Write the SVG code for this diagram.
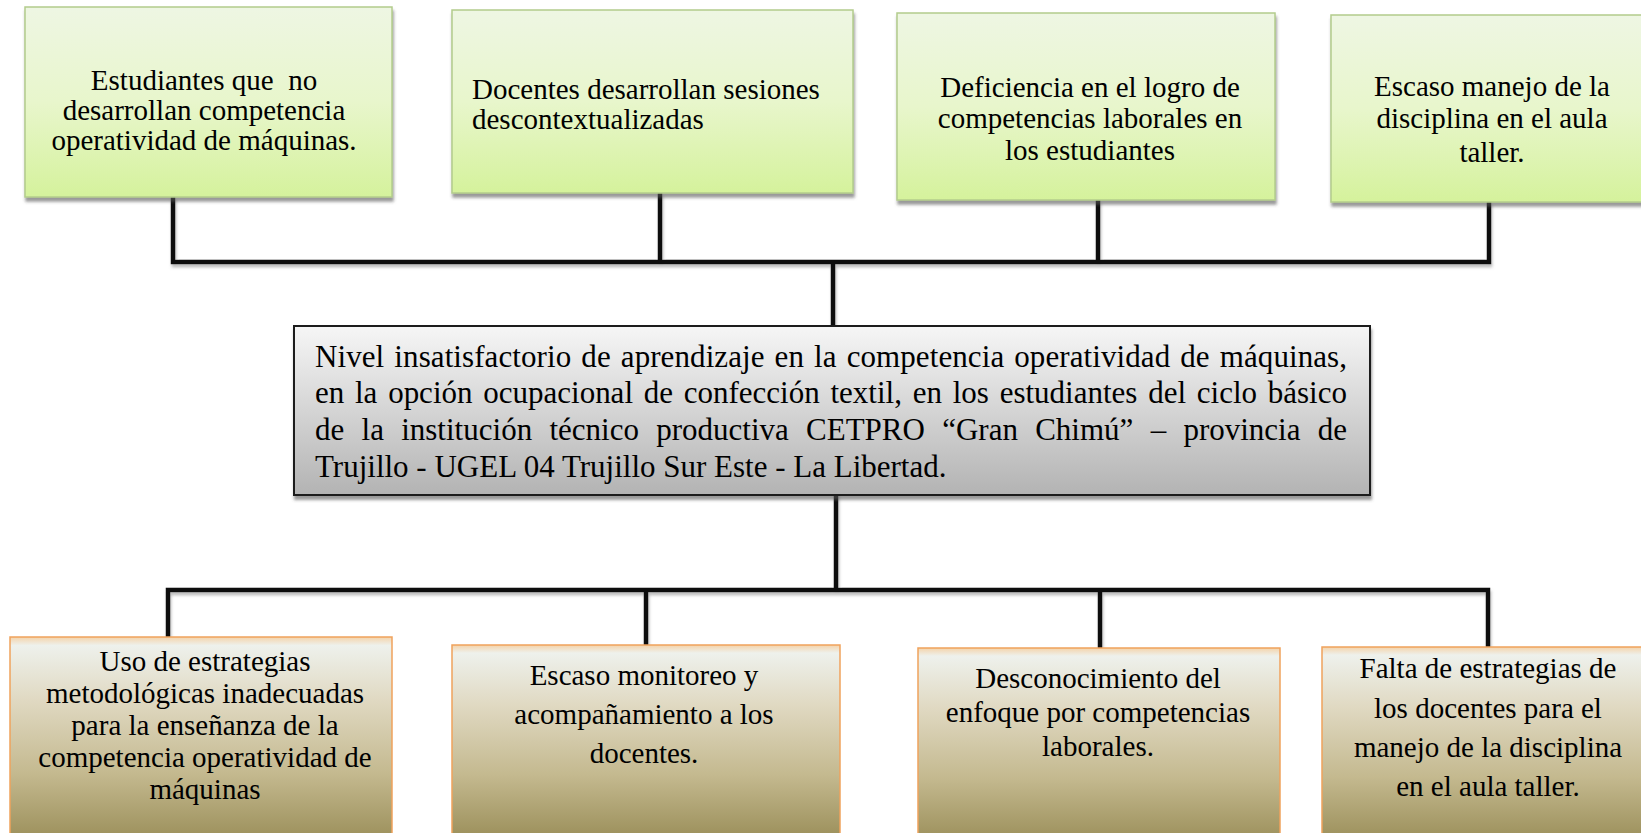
<svg xmlns="http://www.w3.org/2000/svg" width="1641" height="833" viewBox="0 0 1641 833">
  <defs>
    <linearGradient id="gGreen" x1="0" y1="0" x2="0" y2="1">
      <stop offset="0" stop-color="#eef6e3"/>
      <stop offset="0.5" stop-color="#e8f6cc"/>
      <stop offset="1" stop-color="#d5f29c"/>
    </linearGradient>
    <linearGradient id="gOlive" x1="0" y1="0" x2="0" y2="1">
      <stop offset="0" stop-color="#f4d3aa"/>
      <stop offset="0.04" stop-color="#eef1ec"/>
      <stop offset="0.3" stop-color="#e0d9c2"/>
      <stop offset="0.65" stop-color="#c4b98f"/>
      <stop offset="1" stop-color="#978b55"/>
    </linearGradient>
    <linearGradient id="gGrey" x1="0" y1="0" x2="0" y2="1">
      <stop offset="0" stop-color="#f6f6f6"/>
      <stop offset="1" stop-color="#b3b3b3"/>
    </linearGradient>
    <filter id="shadow" x="-5%" y="-5%" width="110%" height="120%">
      <feDropShadow dx="1" dy="4" stdDeviation="1.5" flood-color="#555" flood-opacity="0.6"/>
    </filter>
    <filter id="lshadow" x="-5%" y="-50%" width="110%" height="300%">
      <feDropShadow dx="1" dy="3" stdDeviation="1.5" flood-color="#777" flood-opacity="0.5"/>
    </filter>
  </defs>
  <style>
    .txt { font-family: "Liberation Serif", "Times New Roman", serif; font-size: 29px; fill: #000; }
    .main { font-family: "Liberation Serif", "Times New Roman", serif; font-size: 31px; fill: #000; }
    .c { text-anchor: middle; }
    .green { fill: url(#gGreen); stroke: #b3cc8c; stroke-width: 1.5; filter: url(#shadow); }
    .olive { fill: url(#gOlive); stroke: #f0a25c; stroke-width: 1.5; }
    .grey { fill: url(#gGrey); stroke: #1a1a1a; stroke-width: 2; filter: url(#shadow); }
    .conn { stroke: #111; stroke-width: 4.5; fill: none; stroke-linecap: square; filter: url(#lshadow); }
  </style>
  <rect width="1641" height="833" fill="#ffffff"/>

  <g id="connectors">
    <path class="conn" d="M173 262 H1489 M173 199 V262 M660 195 V262 M1098 202 V262 M1489 204 V262 M833 262 V326"/>
    <path class="conn" d="M168 590 H1488 M836 495 V590 M168 590 V637 M646 590 V645 M1100 590 V648 M1488 590 V647"/>
  </g>

  <g id="effect1">
    <rect class="green" x="25" y="7" width="367" height="190"/>
    <text class="txt c" x="204" y="90" xml:space="preserve">Estudiantes que  no</text>
    <text class="txt c" x="204" y="120">desarrollan competencia</text>
    <text class="txt c" x="204" y="150">operatividad de máquinas.</text>
  </g>
  <g id="effect2">
    <rect class="green" x="452" y="10" width="401" height="183"/>
    <text class="txt" x="472" y="99">Docentes desarrollan sesiones</text>
    <text class="txt" x="472" y="129">descontextualizadas</text>
  </g>
  <g id="effect3">
    <rect class="green" x="897" y="13" width="378" height="187"/>
    <text class="txt c" x="1090" y="97">Deficiencia en el logro de</text>
    <text class="txt c" x="1090" y="128">competencias laborales en</text>
    <text class="txt c" x="1090" y="160">los estudiantes</text>
  </g>
  <g id="effect4">
    <rect class="green" x="1331" y="15" width="330" height="187"/>
    <text class="txt c" x="1492" y="96">Escaso manejo de la</text>
    <text class="txt c" x="1492" y="128">disciplina en el aula</text>
    <text class="txt c" x="1492" y="162">taller.</text>
  </g>

  <g id="problem">
    <rect class="grey" x="294" y="326" width="1076" height="169"/>
    <text class="main" x="315" y="367" word-spacing="2.2" textLength="1032" lengthAdjust="spacing">Nivel insatisfactorio de aprendizaje en la competencia operatividad de máquinas,</text>
    <text class="main" x="315" y="403" word-spacing="3" textLength="1032" lengthAdjust="spacing">en la opción ocupacional de confección textil, en los estudiantes del ciclo básico</text>
    <text class="main" x="315" y="440" word-spacing="9.5" textLength="1032" lengthAdjust="spacing">de la institución técnico productiva CETPRO “Gran Chimú” – provincia de</text>
    <text class="main" x="315" y="477">Trujillo - UGEL 04 Trujillo Sur Este - La Libertad.</text>
  </g>

  <g id="cause1">
    <rect class="olive" x="10" y="637" width="382" height="210"/>
    <text class="txt c" x="205" y="671">Uso de estrategias</text>
    <text class="txt c" x="205" y="703">metodológicas inadecuadas</text>
    <text class="txt c" x="205" y="735">para la enseñanza de la</text>
    <text class="txt c" x="205" y="767">competencia operatividad de</text>
    <text class="txt c" x="205" y="799">máquinas</text>
  </g>
  <g id="cause2">
    <rect class="olive" x="452" y="645" width="388" height="200"/>
    <text class="txt c" x="644" y="685">Escaso monitoreo y</text>
    <text class="txt c" x="644" y="724">acompañamiento a los</text>
    <text class="txt c" x="644" y="763">docentes.</text>
  </g>
  <g id="cause3">
    <rect class="olive" x="918" y="648" width="362" height="200"/>
    <text class="txt c" x="1098" y="688">Desconocimiento del</text>
    <text class="txt c" x="1098" y="722">enfoque por competencias</text>
    <text class="txt c" x="1098" y="756">laborales.</text>
  </g>
  <g id="cause4">
    <rect class="olive" x="1322" y="647" width="330" height="200"/>
    <text class="txt c" x="1488" y="678">Falta de estrategias de</text>
    <text class="txt c" x="1488" y="718">los docentes para el</text>
    <text class="txt c" x="1488" y="757">manejo de la disciplina</text>
    <text class="txt c" x="1488" y="796">en el aula taller.</text>
  </g>
</svg>
